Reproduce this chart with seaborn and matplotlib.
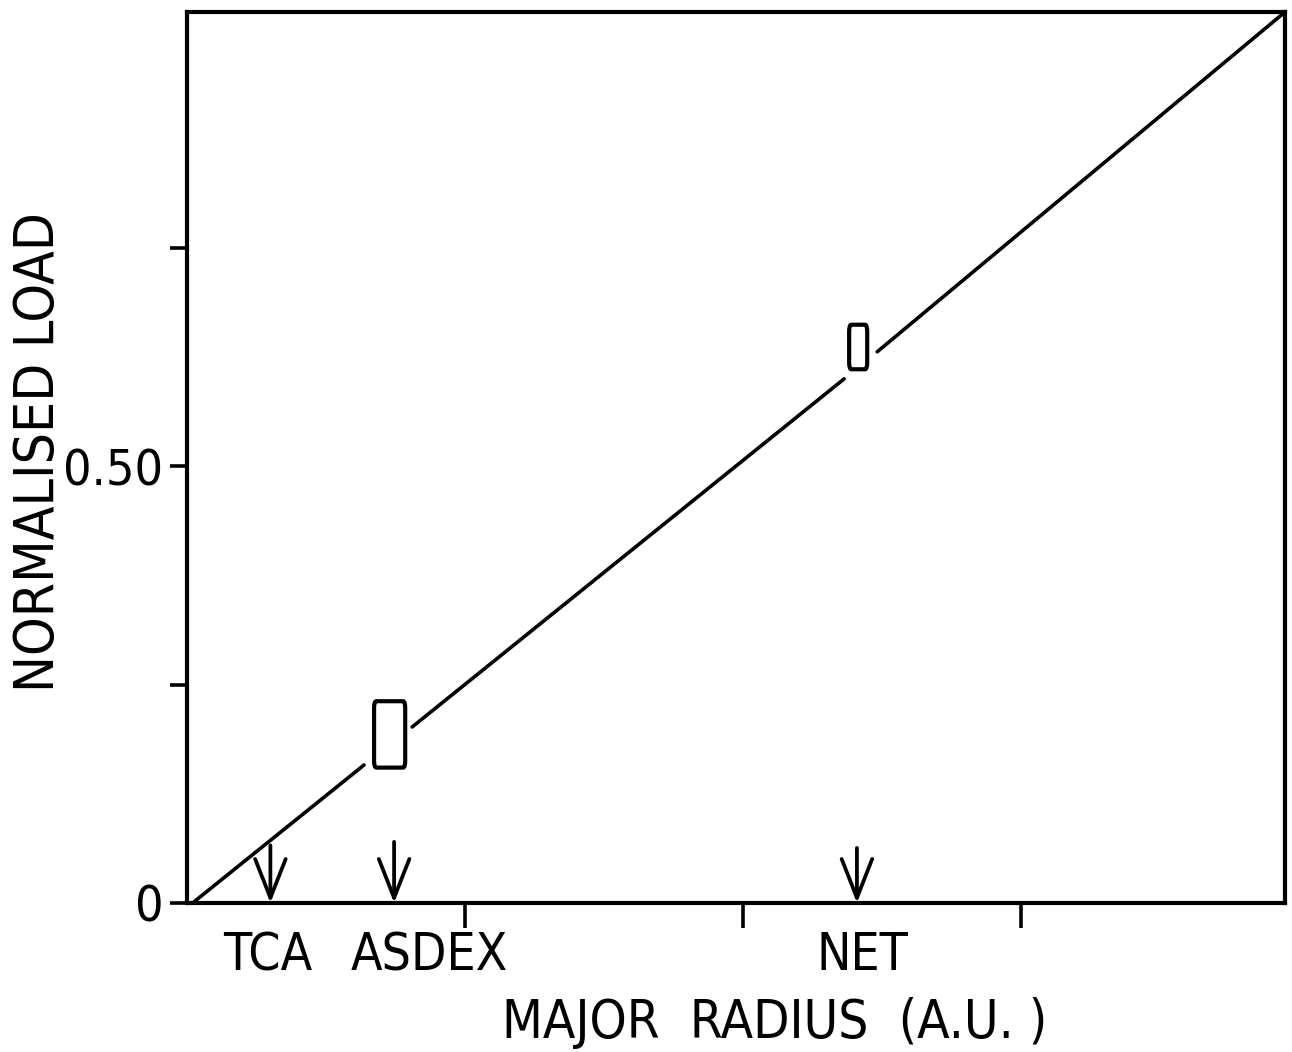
import matplotlib
matplotlib.use("Agg")
import matplotlib.pyplot as plt
from matplotlib.patches import FancyBboxPatch
import seaborn as sns
import pandas as pd

# ---- data ----
seg_id = [1, 1, 2, 2, 3, 3]
seg_x = [0.02, 0.637, 0.81, 2.364, 2.483, 3.95]
seg_y = [0.0, 0.158, 0.2015, 0.600, 0.631, 1.02]

machines = ["TCA", "ASDEX", "NET"]
machine_x = [0.30, 0.745, 2.41]
arrow_top = [0.066, 0.070, 0.063]
label_x = [0.29, 0.87, 2.43]

box_x0 = [0.673, 2.382]
box_x1 = [0.785, 2.447]
box_y0 = [0.155, 0.611]
box_y1 = [0.231, 0.662]

yticks = [0, 0.25, 0.5, 0.75]
ytick_labels = ["0", "", "0.50", ""]
xticks = [1, 2, 3]
xtick_labels = ["", "", ""]

sns.set_theme(style="ticks")
plt.rcParams['font.family'] = ['DejaVu Sans']
plt.rcParams['font.stretch'] = 'condensed'
plt.rcParams['text.color'] = 'black'
plt.rcParams['axes.labelcolor'] = 'black'
plt.rcParams['xtick.labelcolor'] = 'black'
plt.rcParams['ytick.labelcolor'] = 'black'

fig = plt.figure(figsize=(12.92, 10.52), dpi=100)
ax = fig.add_axes([187/1292, 1 - 903/1052, (1285-187)/1292, (903-12)/1052])

df = pd.DataFrame({"seg": seg_id, "x": seg_x, "y": seg_y})
for s, d in df.groupby("seg"):
    sns.lineplot(data=d, x="x", y="y", ax=ax, color="black", lw=2.6,
                 estimator=None, sort=False, legend=False)

for x0, x1, y0, y1 in zip(box_x0, box_x1, box_y0, box_y1):
    ax.add_patch(FancyBboxPatch((x0, y0), x1 - x0, y1 - y0,
                                boxstyle="round,pad=0,rounding_size=0.008",
                                fill=False, ec="black", lw=3.0))

for mx, top in zip(machine_x, arrow_top):
    ax.annotate("", xy=(mx, 0.0), xytext=(mx, top),
                arrowprops=dict(arrowstyle="->,head_length=1.4,head_width=0.55",
                                color="black", lw=2.7, mutation_scale=20,
                                shrinkA=0, shrinkB=0))

trans = ax.get_xaxis_transform()
for name, lx in zip(machines, label_x):
    ax.text(lx, -0.06, name, transform=trans, ha="center", va="center",
            fontsize=37, color="black")

ax.set_xlim(0, 3.95)
ax.set_ylim(0, 1.02)
ax.set_xticks(xticks)
ax.set_xticklabels(xtick_labels)
ax.set_yticks(yticks)
ax.set_yticklabels(ytick_labels, fontsize=36)
ax.tick_params(axis="x", direction="out", length=18, width=2.6, color="black")
ax.tick_params(axis="y", direction="out", length=12, width=2.6, color="black", pad=5)

for sp in ax.spines.values():
    sp.set_linewidth(3.0)
    sp.set_color("black")

ax.set_xlabel("MAJOR  RADIUS  (A.U. )", fontsize=38)
ax.xaxis.set_label_coords(0.5355, -0.106)
ax.set_ylabel("NORMALISED LOAD", fontsize=39.5)
ax.yaxis.set_label_coords(-0.11, 0.506)

fig.savefig("out.png", dpi=100, facecolor="white")
